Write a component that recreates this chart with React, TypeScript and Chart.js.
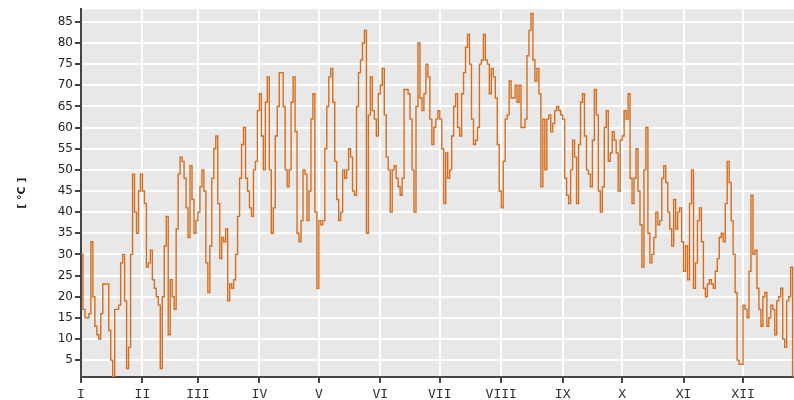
import React, { useEffect, useRef } from "react";
import { Chart, registerables } from "chart.js";

Chart.register(...registerables);

const MONTH_LABELS = ["I", "II", "III", "IV", "V", "VI", "VII", "VIII", "IX", "X", "XI", "XII"];
const MONTH_STARTS = [0, 31, 59, 90, 120, 151, 181, 212, 243, 273, 304, 334];
const Y_TICKS = [5, 10, 15, 20, 25, 30, 35, 40, 45, 50, 55, 60, 65, 70, 75, 80, 85];
const Y_TITLE = "[ °C ]";

const JAN = [30, 17, 15, 15, 16, 33, 20, 13, 11, 10, 16, 23, 23, 23, 12, 5, 1, 17, 17, 18, 28, 30, 19, 3, 8, 30, 49, 40, 35, 45, 49];
const FEB = [45, 42, 27, 28, 31, 24, 22, 20, 18, 3, 20, 32, 39, 11, 24, 20, 17, 36, 49, 53, 52, 48, 41, 34, 51, 43, 35, 38];
const MAR = [40, 46, 50, 45, 28, 21, 32, 48, 55, 58, 42, 29, 34, 33, 36, 19, 23, 22, 24, 30, 39, 48, 56, 60, 48, 45, 41, 39, 50, 52, 64];
const APR = [68, 58, 50, 66, 72, 50, 35, 41, 58, 65, 73, 73, 65, 50, 46, 50, 66, 72, 59, 35, 33, 38, 50, 49, 38, 45, 62, 68, 40, 22];
const MAY = [38, 37, 38, 55, 65, 72, 74, 66, 52, 43, 38, 40, 50, 48, 50, 55, 53, 45, 44, 65, 73, 76, 80, 83, 35, 63, 72, 64, 62, 58, 68];
const JUN = [70, 74, 63, 53, 50, 40, 50, 51, 48, 46, 44, 48, 69, 69, 68, 62, 50, 40, 65, 80, 67, 64, 68, 75, 72, 62, 56, 60, 62, 64];
const JUL = [62, 55, 42, 54, 48, 50, 58, 65, 68, 60, 58, 68, 73, 79, 82, 75, 62, 56, 57, 60, 75, 76, 82, 76, 75, 68, 74, 72, 67, 56, 45];
const AUG = [41, 52, 62, 63, 71, 67, 67, 70, 66, 70, 60, 60, 62, 77, 83, 87, 76, 71, 74, 68, 46, 62, 50, 62, 63, 59, 61, 64, 65, 64, 63];
const SEP = [62, 48, 44, 42, 50, 57, 53, 42, 56, 66, 68, 58, 50, 49, 46, 57, 69, 63, 45, 40, 46, 60, 64, 52, 54, 59, 57, 54, 45, 57];
const OCT = [58, 64, 62, 68, 48, 42, 48, 55, 45, 37, 27, 50, 60, 35, 28, 30, 34, 40, 37, 38, 48, 51, 47, 40, 36, 32, 43, 36, 40, 41, 33];
const NOV = [26, 32, 24, 42, 50, 22, 28, 38, 41, 33, 22, 20, 23, 24, 23, 22, 26, 29, 34, 35, 33, 42, 52, 47, 38, 30, 21, 5, 4, 4];
const DEC = [18, 17, 15, 26, 44, 30, 31, 22, 17, 13, 20, 21, 13, 15, 18, 17, 11, 19, 20, 22, 10, 8, 19, 20, 27, 1];

const TEMPS = [...JAN, ...FEB, ...MAR, ...APR, ...MAY, ...JUN, ...JUL, ...AUG, ...SEP, ...OCT, ...NOV, ...DEC];

const plotBackground = {
  id: "plotBackground",
  beforeDraw(chart: any) {
    const { ctx, chartArea: a } = chart;
    ctx.save();
    ctx.fillStyle = "#e8e8e8";
    ctx.fillRect(a.left, a.top, a.right - a.left, a.bottom - a.top);
    ctx.restore();
  },
};

export default function App() {
  const ref = useRef<HTMLCanvasElement>(null);

  useEffect(() => {
    if (!ref.current) return;
    const chart = new Chart(ref.current, {
      type: "line",
      data: {
        datasets: [
          {
            data: TEMPS.map((y, i) => ({ x: i, y })),
            borderColor: "#d56f1f",
            borderWidth: 1.4,
            pointRadius: 0,
            stepped: true,
            fill: false,
          },
        ],
      },
      options: {
        animation: false,
        responsive: false,
        devicePixelRatio: 1,
        layout: { padding: { top: 9, left: 0, right: 0, bottom: 0 } },
        plugins: { legend: { display: false }, tooltip: { enabled: false } },
        scales: {
          x: {
            type: "linear",
            min: 0,
            max: 359.7,
            afterBuildTicks: (s: any) => {
              s.ticks = MONTH_STARTS.map((v) => ({ value: v }));
            },
            afterFit: (s: any) => {
              s.height = 23;
            },
            ticks: {
              autoSkip: false,
              maxRotation: 0,
              padding: 4,
              color: "#333",
              font: { family: "DejaVu Sans Mono", size: 13 },
              callback: (v: any) => {
                const i = MONTH_STARTS.indexOf(Number(v));
                return i >= 0 ? MONTH_LABELS[i] : "";
              },
            },
            grid: { color: "#ffffff", lineWidth: 2, tickColor: "#444", tickLength: 6 },
            border: { color: "#444", width: 2 },
          },
          y: {
            type: "linear",
            min: 1,
            max: 88,
            afterBuildTicks: (s: any) => {
              s.ticks = Y_TICKS.map((v) => ({ value: v }));
            },
            afterFit: (s: any) => {
              s.width = 81;
            },
            ticks: {
              padding: 2,
              color: "#222",
              font: { family: "DejaVu Sans", size: 12 },
            },
            grid: { color: "#ffffff", lineWidth: 2, tickColor: "#444", tickLength: 6 },
            border: { color: "#444", width: 2 },
            title: {
              display: true,
              text: Y_TITLE,
              color: "#222",
              font: { family: "DejaVu Sans", size: 11, weight: "bold" },
              padding: { top: 16, bottom: 0 },
            },
          },
        },
      },
      plugins: [plotBackground],
    });
    return () => chart.destroy();
  }, []);

  return (
    <div style={{ position: "absolute", left: 0, top: 0, width: 794, height: 400 }}>
      <canvas ref={ref} width={794} height={400} style={{ display: "block" }} />
    </div>
  );
}
